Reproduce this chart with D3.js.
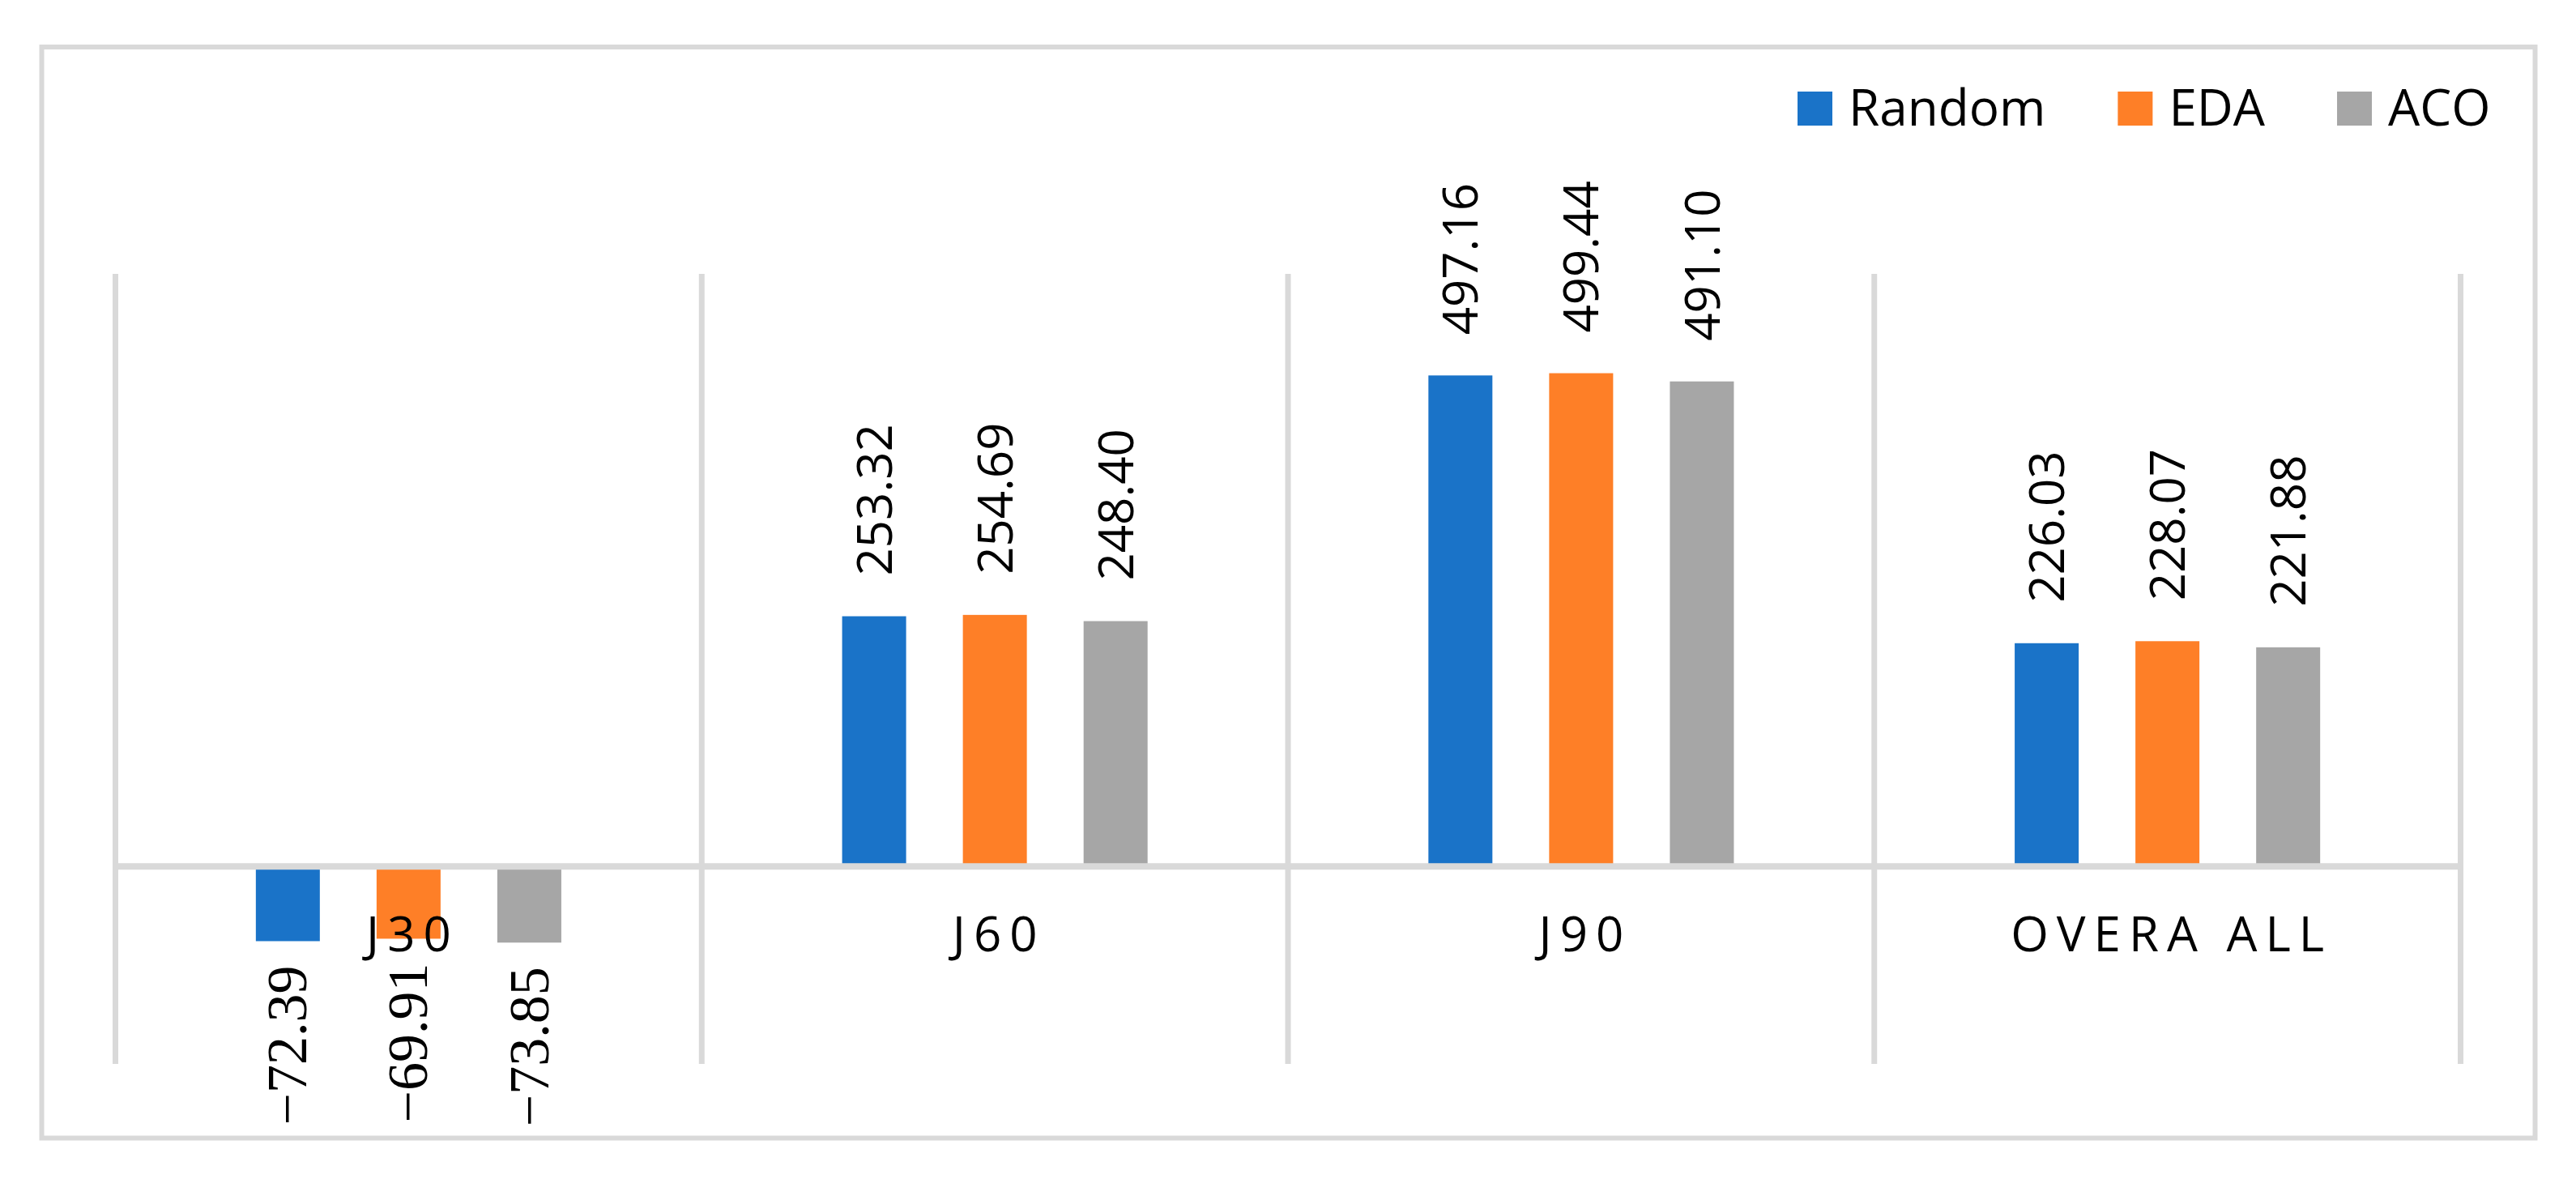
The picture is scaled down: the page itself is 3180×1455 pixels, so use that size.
<!DOCTYPE html>
<html>
<head>
<meta charset="utf-8">
<script src="https://cdn.jsdelivr.net/npm/d3@7"></script>
<style>
  body { margin: 0; background: #fff; }
  text { fill: #000; }
  .neg { font-family: "Liberation Serif", "DejaVu Serif", serif; }
  .pos { font-family: "Open Sans", sans-serif; }
</style>
</head>
<body>
<div id="chart"></div>
<script>

const WIDTH = 3180;
const HEIGHT = 1455;

// Plot area (category gridlines span this).
const PLOT = {'left': 142.5, 'right': 3037.5, 'top': 338, 'bottom': 1313};

const GRID = "#d9d9d9";

// Data.
const categories = ["J30", "J60", "J90", "OVERA ALL"];
const seriesNames = ["Random", "EDA", "ACO"];
const randomValues = [-72.39, 253.32, 497.16, 226.03];
const edaValues = [-69.91, 254.69, 499.44, 228.07];
const acoValues = [-73.85, 248.40, 491.10, 221.88];
const seriesColors = ["#1a73c8", "#fe7f27", "#a6a6a6"];
const yDomain = [-200, 600];


window.onload = function() {

    var svg = d3.select("#chart").append("svg")
                .attr("width", WIDTH)
                .attr("height", HEIGHT);

    // outer frame
    svg.append("rect")
       .attr("x", 51.5)
       .attr("y", 58)
       .attr("width", 3078)
       .attr("height", 1346.5)
       .attr("fill", "none")
       .attr("stroke", GRID)
       .attr("stroke-width", 6);

    var allValues = [randomValues, edaValues, acoValues];
    var rows = categories.map(function(c, i) {
        return {cat: c, vals: seriesNames.map(function(s, j) {
            return {series: s, value: allValues[j][i], color: seriesColors[j]};
        })};
    });

    var x0 = d3.scaleBand()
               .domain(categories)
               .range([PLOT.left, PLOT.right])
               .padding(0);

    var x1 = d3.scaleBand()
               .domain(seriesNames)
               .range([0, x0.bandwidth()])
               .paddingInner(0.47)
               .paddingOuter(1.163);

    var y = d3.scaleLinear()
              .domain(yDomain)
              .range([PLOT.bottom, PLOT.top]);

    var fmt = d3.format(".2f");

    // vertical gridlines between categories
    var bounds = categories.map(function(c) { return x0(c); }).concat([x0.range()[1]]);
    svg.append("g").selectAll("line")
       .data(bounds)
       .enter()
       .append("line")
       .attr("x1", function(d) { return d; })
       .attr("x2", function(d) { return d; })
       .attr("y1", PLOT.top)
       .attr("y2", PLOT.bottom)
       .attr("stroke", GRID)
       .attr("stroke-width", 7);

    var groups = svg.selectAll("g.cat")
                    .data(rows)
                    .enter()
                    .append("g")
                    .attr("class", "cat")
                    .attr("transform", function(d) { return "translate(" + x0(d.cat) + ",0)"; });

    groups.selectAll("rect")
          .data(function(d) { return d.vals; })
          .enter()
          .append("rect")
          .attr("x", function(d) { return x1(d.series); })
          .attr("width", x1.bandwidth())
          .attr("y", function(d) { return d.value >= 0 ? y(d.value) : y(0); })
          .attr("height", function(d) { return Math.abs(y(d.value) - y(0)) + (d.value < 0 ? 4 : 0); })
          .attr("fill", function(d) { return d.color; });

    // zero line
    svg.append("line")
       .attr("x1", PLOT.left - 3.5)
       .attr("x2", PLOT.right + 3.5)
       .attr("y1", y(0))
       .attr("y2", y(0))
       .attr("stroke", GRID)
       .attr("stroke-width", 8);

    // category labels
    var xAxis = svg.append("g")
                   .attr("transform", "translate(0," + y(0) + ")")
                   .call(d3.axisBottom(x0).tickSize(0).tickPadding(62));
    xAxis.select(".domain").remove();
    xAxis.selectAll("text")
         .attr("font-family", "'Open Sans', sans-serif")
         .attr("font-size", 60)
         .attr("letter-spacing", "10px")
         .attr("dx", 5)
         .attr("fill", "#000");

    // data labels (negatives come out in a serif face in the original)
    groups.selectAll("text.val")
          .data(function(d) { return d.vals; })
          .enter()
          .append("text")
          .attr("class", function(d) { return d.value >= 0 ? "val pos" : "val neg"; })
          .attr("transform", function(d) {
              var cx = x1(d.series) + x1.bandwidth() / 2;
              var ty = d.value >= 0 ? y(d.value) - 50 : y(d.value) + 34;
              return "translate(" + cx + "," + ty + ") rotate(-90)";
          })
          .attr("text-anchor", function(d) { return d.value >= 0 ? "start" : "end"; })
          .attr("dy", function(d) { return d.value >= 0 ? "0.36em" : "0.33em"; })
          .style("font-size", function(d) { return d.value >= 0 ? "60px" : "70px"; })
          .text(function(d) { return fmt(d.value); });

    // legend
    var legend = svg.append("g").attr("transform", "translate(2219,0)");
    var lx = 0;
    seriesNames.forEach(function(s, i) {
        var item = legend.append("g").attr("transform", "translate(" + lx + ",0)");
        item.append("rect")
            .attr("x", 0)
            .attr("y", 113)
            .attr("width", 43)
            .attr("height", 42)
            .attr("fill", seriesColors[i]);
        var t = item.append("text")
                    .attr("x", 63)
                    .attr("y", 155)
                    .attr("font-family", "'Open Sans', sans-serif")
                    .attr("font-size", 62)
                    .text(s);
        lx += 63 + t.node().getComputedTextLength() + 89;
    });
};

</script>
</body>
</html>
